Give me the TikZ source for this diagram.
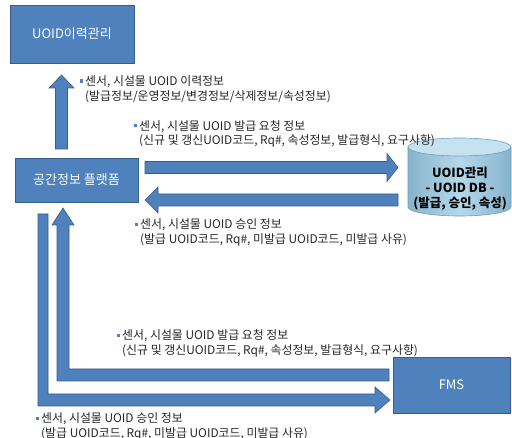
\documentclass[tikz,border=0pt]{standalone}
\usepackage{fontspec}
\setmainfont{Noto Sans CJK KR}
\usetikzlibrary{calc}
\definecolor{boxblue}{HTML}{4F81BD}
\definecolor{boxedge}{HTML}{385D8A}
\definecolor{bul}{HTML}{4F81BD}
\definecolor{txt}{HTML}{262626}
\definecolor{dbside}{HTML}{86B4CC}
\definecolor{dbmid}{HTML}{B4D8EA}
\definecolor{dbtop}{HTML}{C4E2F0}
\definecolor{dbedge}{HTML}{6F9DB5}
\tikzset{
  bluebox/.style={draw=boxedge, line width=0.8pt, fill=boxblue, text=white, inner sep=0pt,
    font=\fontsize{13}{15}\selectfont},
  blockarrow/.style={draw=boxedge, line width=0.6pt, fill=boxblue, line join=miter},
  infolabel/.style={anchor=west, inner sep=0pt, align=left, text=txt,
    font=\fontsize{11.9}{14.5}\selectfont},
  dbtext/.style={inner sep=0pt, align=center, text=black,
    font=\bfseries\fontsize{12.5}{15}\selectfont}
}
\newcommand{\bulletmark}{\llap{\textcolor{bul}{\rule[3pt]{3.2pt}{3.2pt}}\hspace{2pt}}}
\begin{document}
\begin{tikzpicture}[x=1pt,y=-1pt]
\useasboundingbox (0,0) rectangle (512,438);

% boxes
\node[bluebox, minimum width=124pt, minimum height=58pt] (hist) at (72,34) {UOID이력관리};
\node[bluebox, minimum width=123pt, minimum height=44pt] (plat) at (76.5,180) {공간정보 플랫폼};
\node[bluebox, minimum width=117pt, minimum height=56pt] (fms) at (451.5,385) {FMS};

% database cylinder
\shade[left color=dbside, right color=dbside, middle color=dbmid]
  (408,147) -- (408,207) arc[start angle=180, end angle=0, x radius=51.5, y radius=9] -- (511,147) -- cycle;
\draw[dbedge, line width=0.6pt]
  (408,147) -- (408,207) arc[start angle=180, end angle=0, x radius=51.5, y radius=9] -- (511,147);
\draw[dbedge, line width=0.6pt, fill=dbtop] (459.5,147) ellipse[x radius=51.5, y radius=9];
\node[dbtext] (db) at (460,189) {UOID관리\\- UOID DB -\\(발급, 승인, 속성)};

% connector end points
\coordinate (ua-s) at (61.5,149);  \coordinate (ua-e) at (61.5,75);
\coordinate (ra-s) at (145,167.5); \coordinate (ra-e) at (398,167.5);
\coordinate (la-s) at (398,200);   \coordinate (la-e) at (145,200);
\coordinate (ol-s) at (43,214);    \coordinate (ol-c) at (43,400);   \coordinate (ol-e) at (390,400);
\coordinate (il-s) at (389,375);   \coordinate (il-c) at (63,375);   \coordinate (il-e) at (63,208);

% platform -> history (up)
\draw[blockarrow] ($(ua-s)+(-6,0)$) -- ($(ua-e)+(-6,13)$) -- ($(ua-e)+(-12.5,13)$) -- (ua-e)
  -- ($(ua-e)+(12.5,13)$) -- ($(ua-e)+(6,13)$) -- ($(ua-s)+(6,0)$) -- cycle;
% platform -> DB (right)
\draw[blockarrow] ($(ra-s)+(0,-6)$) -- ($(ra-e)+(-11,-6)$) -- ($(ra-e)+(-11,-14)$) -- (ra-e)
  -- ($(ra-e)+(-11,14)$) -- ($(ra-e)+(-11,6)$) -- ($(ra-s)+(0,6)$) -- cycle;
% DB -> platform (left)
\draw[blockarrow] ($(la-s)+(0,-6)$) -- ($(la-e)+(13,-6)$) -- ($(la-e)+(13,-13)$) -- (la-e)
  -- ($(la-e)+(13,13)$) -- ($(la-e)+(13,6)$) -- ($(la-s)+(0,6)$) -- cycle;
% platform -> FMS (outer L)
\draw[blockarrow] ($(ol-s)+(-5,0)$) -- ($(ol-s)+(5,0)$) -- ($(ol-c)+(5,-6)$) -- ($(ol-e)+(-15,-6)$)
  -- ($(ol-e)+(-15,-13)$) -- (ol-e) -- ($(ol-e)+(-15,13)$) -- ($(ol-e)+(-15,6)$)
  -- ($(ol-c)+(-5,6)$) -- cycle;
% FMS -> platform (inner L)
\draw[blockarrow] ($(il-s)+(0,-6)$) -- ($(il-c)+(6,-6)$) -- ($(il-e)+(6,17)$) -- ($(il-e)+(11,17)$)
  -- (il-e) -- ($(il-e)+(-11,17)$) -- ($(il-e)+(-6,17)$) -- ($(il-c)+(-6,6)$)
  -- ($(il-s)+(0,6)$) -- cycle;

% labels
\node[infolabel] (l1) at (85,89) {\bulletmark 센서, 시설물 UOID 이력정보\\(발급정보/운영정보/변경정보/삭제정보/속성정보)};
\node[infolabel] (l2) at (139,134) {\bulletmark 센서, 시설물 UOID 발급 요청 정보\\(신규 및 갱신UOID코드, Rq\#, 속성정보, 발급형식, 요구사항)};
\node[infolabel] (l3) at (140,232.5) {\bulletmark 센서, 시설물 UOID 승인 정보\\(발급 UOID코드, Rq\#, 미발급 UOID코드, 미발급 사유)};
\node[infolabel] (l4) at (122,343.5) {\bulletmark 센서, 시설물 UOID 발급 요청 정보\\(신규 및 갱신UOID코드, Rq\#, 속성정보, 발급형식, 요구사항)};
\node[infolabel] (l5) at (41,426.5) {\bulletmark 센서, 시설물 UOID 승인 정보\\(발급 UOID코드, Rq\#, 미발급 UOID코드, 미발급 사유)};
\end{tikzpicture}
\end{document}
